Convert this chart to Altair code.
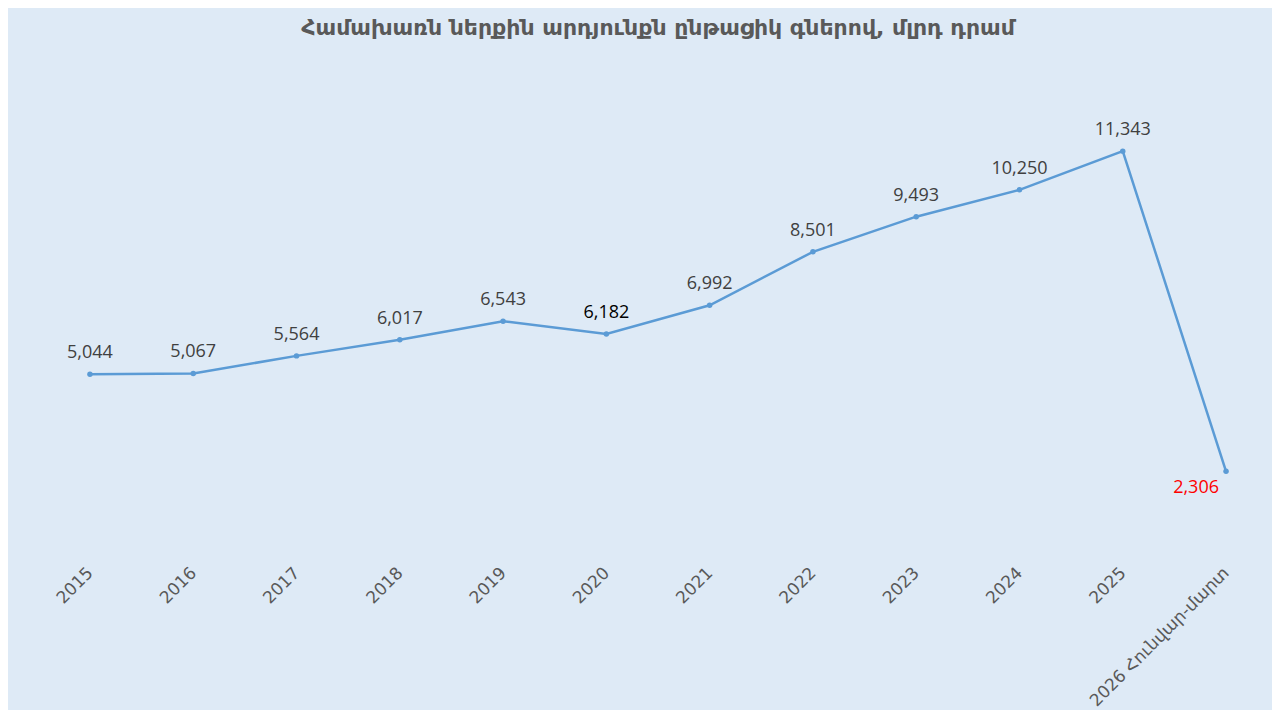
import altair as alt
import pandas as pd

years = ["2015", "2016", "2017", "2018", "2019", "2020", "2021", "2022",
         "2023", "2024", "2025", "2026 Հունվար-մարտ"]
gdp = [5044, 5067, 5564, 6017, 6543, 6182, 6992, 8501, 9493, 10250, 11343, 2306]

df = pd.DataFrame({"year": years, "gdp": gdp})
last = years[-1]

x = alt.X("year:N", sort=years, title=None,
          scale=alt.Scale(type="point", padding=0.445),
          axis=alt.Axis(labelAngle=-45, labelAlign="right", labelBaseline="middle",
                        labelFontSize=17, labelColor="#595959", labelFont="DejaVu Sans",
                        labelPadding=17, ticks=False, domain=False, grid=False,
                        labelLimit=300))
y = alt.Y("gdp:Q", title=None, scale=alt.Scale(domain=[0, 14000]), axis=None)

base = alt.Chart(df).encode(x=x, y=y)

line = base.mark_line(color="#5B9BD5", strokeWidth=2.5)
pts = base.mark_point(filled=True, color="#5B9BD5", size=30, opacity=1)

labels = base.transform_filter(alt.datum.year != last).mark_text(
    dy=-21, fontSize=18, font="Open Sans"
).encode(
    text=alt.Text("gdp:Q", format=","),
    color=alt.condition(alt.datum.year == "2020", alt.value("#000000"), alt.value("#404040")),
)

last_label = base.transform_filter(alt.datum.year == last).mark_text(
    dx=-30, dy=17, fontSize=18, font="Open Sans", color="#FF0000"
).encode(text=alt.Text("gdp:Q", format=","))

chart = alt.layer(line, pts, labels, last_label).properties(
    width=1228, height=496,
    background="#DEEAF6",
    padding={"left": 36, "right": 0, "top": 9, "bottom": 0},
    title=alt.TitleParams(
        "Համախառն ներքին արդյունքն ընթացիկ գներով,  մլրդ դրամ",
        font="DejaVu Sans", fontSize=22, fontWeight="bold", color="#595959",
        anchor="middle", offset=17,
    ),
).configure_view(stroke=None)

chart.save("out.html", embed_options={"renderer": "svg", "actions": False})
